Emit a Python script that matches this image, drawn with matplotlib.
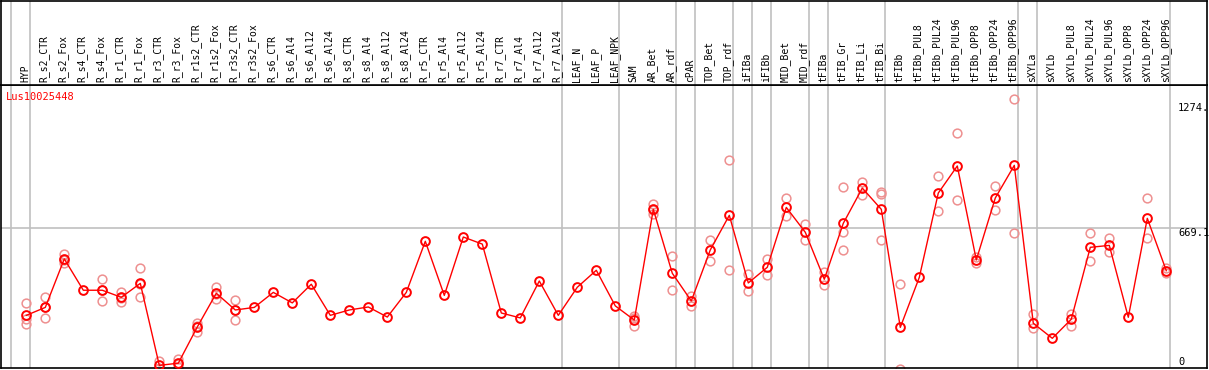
import matplotlib
matplotlib.use("Agg")
import matplotlib.pyplot as plt
import numpy as np

# sample names (one column per sample)
samples = ["HYP", "R_s2_CTR", "R_s2_Fox", "R_s4_CTR", "R_s4_Fox", "R_r1_CTR", "R_r1_Fox",
           "R_r3_CTR", "R_r3_Fox", "R_r1s2_CTR", "R_r1s2_Fox", "R_r3s2_CTR", "R_r3s2_Fox",
           "R_s6_CTR", "R_s6_Al4", "R_s6_Al12", "R_s6_Al24", "R_s8_CTR", "R_s8_Al4",
           "R_s8_Al12", "R_s8_Al24", "R_r5_CTR", "R_r5_Al4", "R_r5_Al12", "R_r5_Al24",
           "R_r7_CTR", "R_r7_Al4", "R_r7_Al12", "R_r7_Al24", "LEAF_N", "LEAF_P", "LEAF_NPK",
           "SAM", "AR_Bet", "AR_rdf", "cPAR", "TOP_Bet", "TOP_rdf", "iFIBa", "iFIBb",
           "MID_Bet", "MID_rdf", "tFIBa", "tFIB_Gr", "tFIB_Li", "tFIB_Bi", "tFIBb",
           "tFIBb_PUL8", "tFIBb_PUL24", "tFIBb_PUL96", "tFIBb_OPP8", "tFIBb_OPP24",
           "tFIBb_OPP96", "sXYLa", "sXYLb", "sXYLb_PUL8", "sXYLb_PUL24", "sXYLb_PUL96",
           "sXYLb_OPP8", "sXYLb_OPP24", "sXYLb_OPP96"]

# mean expression per sample
means = [264, 301, 527, 381, 381, 348, 413, 31, 41, 210, 367, 289, 301, 371, 322, 409,
         264, 289, 303, 256, 371, 609, 357, 629, 596, 275, 252, 424, 264, 395, 474, 308,
         242, 758, 460, 331, 569, 730, 415, 488, 767, 651, 432, 693, 857, 758, 208, 441,
         834, 960, 522, 811, 963, 227, 157, 246, 581, 590, 255, 716, 472]

# individual replicates (empty where only the mean shows)
replicates = [[322, 224, 246], [348, 250, 305], [550, 507, 524], [], [432, 329, 382],
              [373, 328, 343], [483, 348, 408], [53, 20], [59, 25, 39], [227, 188, 215],
              [397, 339, 365], [336, 242, 289], [], [], [], [], [], [], [], [], [], [], [],
              [], [], [], [], [], [], [], [], [], [262, 213, 251], [783, 736, 755],
              [539, 381], [356, 306], [614, 517], [986, 475], [455, 376], [527, 451],
              [809, 727], [688, 614], [465, 404], [861, 651, 567], [885, 823], [839, 829, 614],
              [410, 13], [], [912, 750], [1112, 800], [537, 507], [865, 754], [1274, 646],
              [269, 204], [], [272, 216], [648, 517], [623, 561], [], [809, 623], [483, 463]]

# group separators: vertical line after these sample indices
group_ends = [-1, 0, 28, 31, 34, 35, 37, 38, 39, 41, 42, 45, 52, 53, 60]

gene = "Lus10025448"
mid_value = 669.1

W, H = 1209, 370
fig = plt.figure(figsize=(W / 100, H / 100), dpi=100)
fig.patch.set_facecolor("white")

xlim = ((1 - 26.3) / 19, (1207 - 26.3) / 19)
ylim = ((372 - 368) / 0.2146, (372 - 85) / 0.2146)

ax = fig.add_axes([1 / W, 2 / H, 1206 / W, 283 / H])
head = fig.add_axes([1 / W, 285 / H, 1206 / W, 84 / H])

x = np.arange(len(samples))
grey = "#c0c0c0"

for a in (ax, head):
    a.set_xlim(*xlim)
    a.set_xticks([])
    a.set_yticks([])
    for s in a.spines.values():
        s.set_color("black")
        s.set_linewidth(1.2)
    for g in group_ends:
        a.axvline(g + 0.22, color=grey, lw=1.2, zorder=0)

ax.set_ylim(*ylim)
ax.axhline(mid_value, color=grey, lw=1.2, zorder=0)

# replicates
for i, reps in enumerate(replicates):
    if reps:
        ax.plot([i] * len(reps), reps, "o", ms=6.3, mfc="none", mec="#ee9090", mew=1.1, zorder=2)

ax.plot(x, means, "-", color="red", lw=1, zorder=3)
ax.plot(x, means, "o", ms=6.3, mfc="none", mec="red", mew=1.4, zorder=4)

ax.text(0.004, (372 - 97) / 0.2146, gene, color="red", fontsize=7.5,
        family="DejaVu Sans Mono", ha="left", va="center", transform=ax.get_yaxis_transform())

xl = (1178 - 26.3) / 19
for lab, ypix in [("1274.", 107.7), ("669.1", 232.7), ("0", 361.7)]:
    ax.text(xl, (372 - ypix) / 0.2146, lab, fontsize=7.5, family="DejaVu Sans Mono",
            ha="left", va="center")

head.set_ylim(0, 84)
for i, name in enumerate(samples):
    head.text(i - 0.05, 3, name, rotation=90, ha="center", va="bottom", fontsize=7,
              family="DejaVu Sans Mono")

fig.savefig("out.png", dpi=100)
